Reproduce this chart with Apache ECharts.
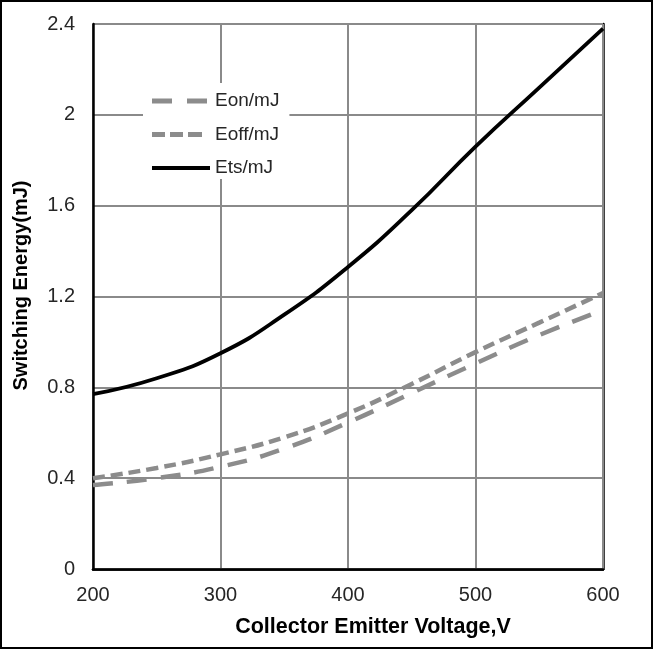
<!DOCTYPE html>
<html>
<head>
<meta charset="utf-8">
<script src="https://cdn.jsdelivr.net/npm/echarts@6/dist/echarts.min.js"></script>
<style>
  html, body { margin: 0; padding: 0; background: #fff; }
  #chart { width: 655px; height: 650px; }
</style>
</head>
<body>
<div id="chart"></div>
<script>
// Collector-emitter voltage (V)
var voltage = [200, 250, 300, 350, 400, 450, 500, 550, 600];
// Switching energies (mJ)
var eon  = [0.37, 0.40, 0.45, 0.53, 0.645, 0.775, 0.905, 1.03, 1.14];
var eoff = [0.40, 0.445, 0.505, 0.58, 0.685, 0.815, 0.955, 1.085, 1.215];
var ets  = [0.77, 0.84, 0.95, 1.12, 1.33, 1.58, 1.86, 2.12, 2.38];

function pairs(xs, ys) {
  return xs.map(function (x, i) { return [x, ys[i]]; });
}

var FONT = '"Liberation Sans", Arial, sans-serif';
var GRID_GRAY = '#8a8a8a';
var LINE_GRAY = '#8c8c8c';

// Legend keys drawn as dash patterns in a 58x5 box (tiny corner dots fix the box size)
var BOX = 'M0,0h0.01v0.01h-0.01z M57.99,4.99h0.01v0.01h-0.01z ';
var ICON_EON  = 'path://' + BOX + 'M0,0h20v5h-20z M35,0h20v5h-20z';
var ICON_EOFF = 'path://' + BOX + 'M0,0h13v5h-13z M18,0h13v5h-13z M36,0h14v5h-14z';
var ICON_ETS  = 'path://' + BOX + 'M0,0.5h58v4h-58z';

var chart = echarts.init(document.getElementById('chart'));

var plainAxis = {
  type: 'value',
  axisLine: { show: true, lineStyle: { color: '#000', width: 2.5 } },
  axisTick: { show: false },
  axisLabel: { show: false },
  splitLine: { show: false }
};

chart.setOption({
  animation: false,
  backgroundColor: '#fff',
  textStyle: { fontFamily: FONT },
  graphic: [{
    type: 'rect',
    shape: { x: 1, y: 1, width: 651, height: 647 },
    style: { fill: 'none', stroke: '#000', lineWidth: 2 },
    z: 100
  }],
  grid: { left: 93, right: 52, top: 24, bottom: 81 },
  xAxis: [{
    type: 'value', min: 200, max: 600, interval: 100,
    name: 'Collector Emitter Voltage,V',
    nameLocation: 'middle', nameGap: 47,
    nameTextStyle: {
      fontFamily: FONT, fontSize: 21.5, fontWeight: 'bold', color: '#000',
      padding: [0, 0, 0, 50]
    },
    axisLine: { show: true, lineStyle: { color: '#000', width: 2.5 } },
    axisTick: { show: false },
    axisLabel: { fontFamily: FONT, fontSize: 20, color: '#262626', margin: 16 },
    splitLine: { show: true, lineStyle: { color: GRID_GRAY, width: 2 } },
    z: 3
  }, Object.assign({ position: 'top', min: 200, max: 600 }, plainAxis)],
  yAxis: [{
    type: 'value', min: 0, max: 2.4, interval: 0.4,
    name: 'Switching Energy(mJ)',
    nameLocation: 'middle', nameGap: 62,
    nameTextStyle: {
      fontFamily: FONT, fontSize: 20, fontWeight: 'bold', color: '#000',
      padding: [0, 0, 0, 22]
    },
    axisLine: { show: true, lineStyle: { color: '#000', width: 2.5 } },
    axisTick: { show: false },
    axisLabel: { fontFamily: FONT, fontSize: 20, color: '#262626', margin: 18 },
    splitLine: { show: true, lineStyle: { color: GRID_GRAY, width: 2 } },
    z: 3
  }, Object.assign({ position: 'right', min: 0, max: 2.4 }, plainAxis)],
  legend: {
    orient: 'vertical',
    left: 143, top: 83,
    padding: [8, 10, 1, 9],
    itemGap: 13.5,
    itemWidth: 58, itemHeight: 5,
    backgroundColor: '#fff',
    itemStyle: { borderWidth: 0 },
    textStyle: { fontFamily: FONT, fontSize: 19, color: '#262626', lineHeight: 20 },
    data: [
      { name: 'Eon/mJ', icon: ICON_EON },
      { name: 'Eoff/mJ', icon: ICON_EOFF },
      { name: 'Ets/mJ', icon: ICON_ETS }
    ]
  },
  series: [
    {
      name: 'Eon/mJ', type: 'line', smooth: true, symbol: 'none',
      data: pairs(voltage, eon),
      lineStyle: { color: LINE_GRAY, width: 4.5, type: [20, 14] },
      itemStyle: { color: LINE_GRAY }
    },
    {
      name: 'Eoff/mJ', type: 'line', smooth: true, symbol: 'none',
      data: pairs(voltage, eoff),
      lineStyle: { color: LINE_GRAY, width: 4.5, type: [12, 6] },
      itemStyle: { color: LINE_GRAY }
    },
    {
      name: 'Ets/mJ', type: 'line', smooth: true, symbol: 'none',
      data: pairs(voltage, ets),
      lineStyle: { color: '#000', width: 3.8 },
      itemStyle: { color: '#000' }
    }
  ]
});
</script>
</body>
</html>
